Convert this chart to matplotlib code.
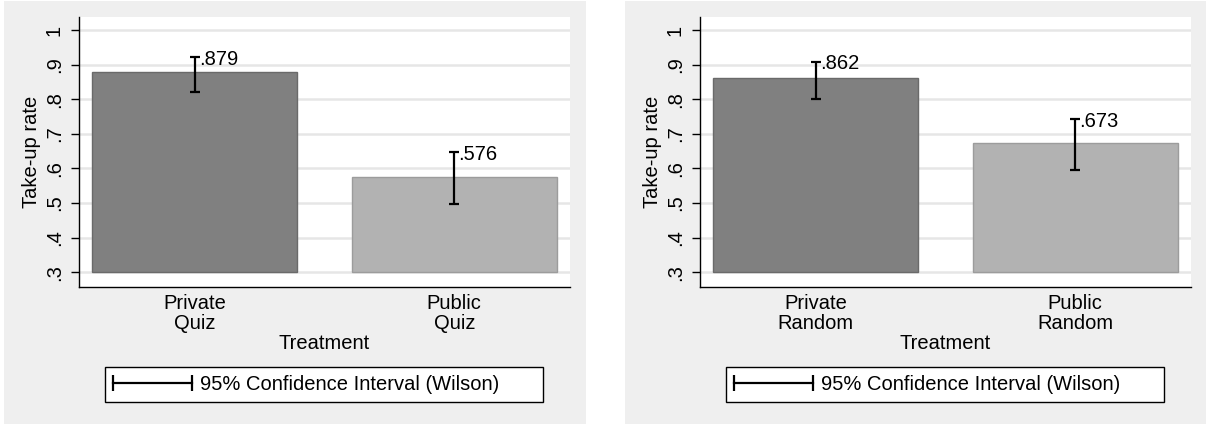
import matplotlib
matplotlib.use("Agg")
import matplotlib.pyplot as plt
from matplotlib.patches import Rectangle
from matplotlib.lines import Line2D
from matplotlib.legend_handler import HandlerLine2D

plt.rcParams['font.family'] = ['Liberation Sans', 'DejaVu Sans']

# take-up by treatment, with Wilson 95% intervals
treat_quiz = ["Private\nQuiz", "Public\nQuiz"]
rate_quiz = [0.879, 0.576]
lo_quiz = [0.822, 0.497]
hi_quiz = [0.921, 0.647]

treat_rand = ["Private\nRandom", "Public\nRandom"]
rate_rand = [0.862, 0.673]
lo_rand = [0.800, 0.596]
hi_rand = [0.909, 0.742]

yticks = [0.3, 0.4, 0.5, 0.6, 0.7, 0.8, 0.9, 1.0]
ytick_labels = [".3", ".4", ".5", ".6", ".7", ".8", ".9", "1"]

bar_colors = ["#808080", "#b2b2b2"]
edge_colors = ["#6a6a6a", "#9c9c9c"]
panel_bg = "#efefef"
fs = 14.5

W, H = 1206, 425
fig = plt.figure(figsize=(W / 100, H / 100), dpi=100, facecolor="white")

# grey panel backgrounds, kept behind the axes
for x0, x1 in [(4, 586), (625, 1206)]:
    fig.patches.append(Rectangle((x0 / W, 1 / H), (x1 - x0) / W, 423 / H,
                                 transform=fig.transFigure, facecolor=panel_bg,
                                 edgecolor="none", zorder=-5))


def panel(left_px, cats, rates, lo, hi):
    ax = fig.add_axes([left_px / W, (H - 287) / H, 491 / W, 270 / H])
    ax.set_facecolor("white")
    x = list(range(len(cats)))
    ax.bar(x, [r - 0.3 for r in rates], bottom=0.3, width=0.79,
           color=bar_colors, edgecolor=edge_colors, linewidth=1, zorder=2)
    yerr = [[r - l for r, l in zip(rates, lo)], [h - r for r, h in zip(rates, hi)]]
    ax.errorbar(x, rates, yerr=yerr, fmt="none", ecolor="black",
                elinewidth=1.6, capsize=3.8, capthick=1.6, zorder=3)
    for xi, r, h in zip(x, rates, hi):
        ax.annotate(f"{r:.3f}".lstrip("0"), (xi, h), xytext=(2.8, -1.5),
                    textcoords="offset points", ha="left", va="center",
                    fontsize=fs, zorder=4)
    ax.set_xlim(-0.446, 1.446)
    ax.set_ylim(0.257, 1.038)
    ax.set_yticks(yticks)
    ax.set_yticklabels(ytick_labels, rotation=90, va="center", fontsize=fs)
    ax.set_xticks(x)
    ax.set_xticklabels(cats, fontsize=fs, linespacing=1.05)
    ax.tick_params(axis="y", length=6, width=1, pad=5)
    ax.tick_params(axis="x", length=0, pad=5)
    ax.grid(axis="y", color="#e6e6e6", linewidth=1.8, zorder=1)
    ax.set_axisbelow(True)
    for s in ["top", "right"]:
        ax.spines[s].set_visible(False)
    for s in ["left", "bottom"]:
        ax.spines[s].set_linewidth(1)
    ax.set_xlabel("Treatment", fontsize=fs, labelpad=1)
    ax.set_ylabel("Take-up rate", fontsize=fs, labelpad=3)

    handle = Line2D([], [], color="black", lw=1.6, marker="|",
                    markersize=11, markeredgewidth=1.6)
    leg_x0 = (left_px + 26) / W
    leg = ax.legend([handle], ["95% Confidence Interval (Wilson)"],
                    handler_map={handle: HandlerLine2D(marker_pad=0)},
                    loc="upper left", mode="expand", numpoints=2,
                    bbox_to_anchor=(leg_x0, (H - 367) / H, 438 / W, 0.001),
                    bbox_transform=fig.transFigure, fontsize=fs,
                    handlelength=3.9, handletextpad=0.4, borderpad=0.4,
                    borderaxespad=0, fancybox=False, framealpha=1,
                    edgecolor="black", facecolor="white")
    leg.get_frame().set_linewidth(1)
    return ax


panel(79, treat_quiz, rate_quiz, lo_quiz, hi_quiz)
panel(700, treat_rand, rate_rand, lo_rand, hi_rand)

fig.savefig("out.png", dpi=100, facecolor="white")
